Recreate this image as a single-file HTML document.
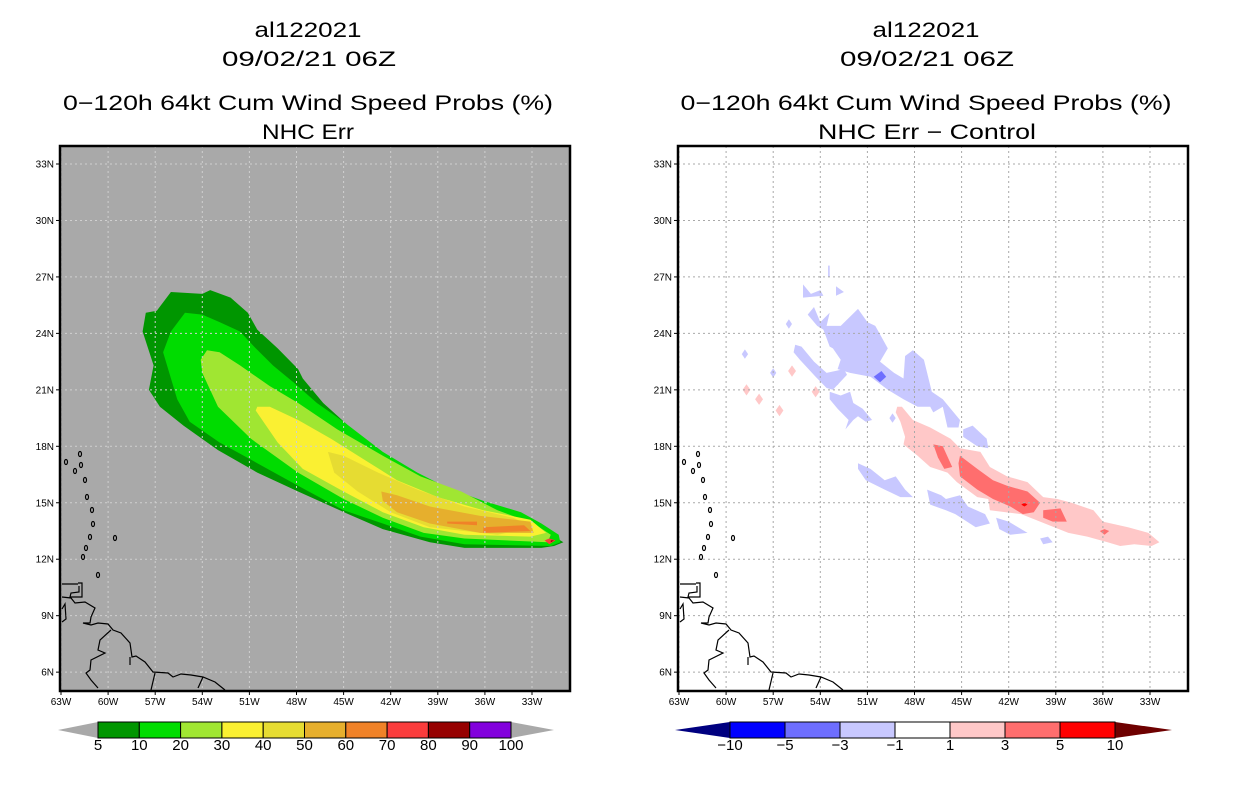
<!DOCTYPE html>
<html><head><meta charset="utf-8"><style>
html,body{margin:0;padding:0;background:#fff;}
svg{display:block;font-family:"Liberation Sans",sans-serif;}
</style></head><body>
<svg id="root" width="1236" height="800" viewBox="0 0 1236 800" xmlns="http://www.w3.org/2000/svg">
<g font-size="21" text-anchor="middle" fill="#000">
<text x="308" y="37" textLength="107" lengthAdjust="spacingAndGlyphs">al122021</text>
<text x="309" y="66" textLength="174" lengthAdjust="spacingAndGlyphs">09/02/21 06Z</text>
<text x="308" y="110" textLength="490" lengthAdjust="spacingAndGlyphs">0−120h 64kt Cum Wind Speed Probs (%)</text>
<text x="308" y="139" textLength="92" lengthAdjust="spacingAndGlyphs">NHC Err</text>
</g>
<g font-size="21" text-anchor="middle" fill="#000">
<text x="926" y="37" textLength="107" lengthAdjust="spacingAndGlyphs">al122021</text>
<text x="927" y="66" textLength="174" lengthAdjust="spacingAndGlyphs">09/02/21 06Z</text>
<text x="926" y="110" textLength="491" lengthAdjust="spacingAndGlyphs">0−120h 64kt Cum Wind Speed Probs (%)</text>
<text x="927" y="139" textLength="218" lengthAdjust="spacingAndGlyphs">NHC Err − Control</text>
</g>
<g id="leftPanel"></g>
<g id="rightPanel"></g>
<g id="leftBar"></g>
<g id="rightBar"></g>
</svg>
<script>
// ---- data ----
const lonTicks = [63,60,57,54,51,48,45,42,39,36,33];
const latTicks = [33,30,27,24,21,18,15,12,9,6];
const probLevels = ["5","10","20","30","40","50","60","70","80","90","100"];
const probColors = ["#009600","#00dc00","#a0e632","#faf032","#e6dc32","#e6af2d","#f08228","#fa3c3c","#960000","#8200dc"];
const diffLevels = ["−10","−5","−3","−1","1","3","5","10"];
const diffColors = ["#0000ff","#6e6eff","#c8c8ff","#ffffff","#ffc8c8","#ff6e6e","#ff0000"];
// probability contours [lonW, latN]
const prob5 = [[56.0,26.2],[54.0,26.1],[53.5,26.3],[52.2,25.9],[51.1,25.1],[50.5,24.2],[49.2,23.2],[47.9,22.1],[47.6,21.6],[46.3,20.3],[44.7,19.1],[42.5,17.5],[40.3,16.4],[38.4,15.6],[36.1,14.8],[33.9,14.2],[32.2,13.5],[31.0,12.9],[31.6,12.7],[32.4,12.6],[37.3,12.6],[39.5,12.9],[42.5,13.6],[44.7,14.4],[47.9,15.6],[50.5,16.6],[53.0,17.8],[55.2,19.1],[56.7,20.1],[57.4,21.0],[57.1,22.3],[57.8,24.1],[57.6,25.1],[56.9,25.2]];
const prob10 = [[55.1,25.1],[54.0,25.0],[52.9,24.6],[51.6,24.1],[50.7,23.3],[49.5,22.3],[48.2,21.4],[46.7,20.3],[45.0,19.3],[42.5,17.7],[40.3,16.6],[38.4,15.8],[36.1,15.1],[33.7,14.5],[32.4,13.9],[31.3,13.3],[31.2,12.9],[31.8,12.7],[37.3,12.8],[40.1,13.2],[42.5,13.9],[45.0,14.6],[47.9,15.9],[50.5,17.1],[52.9,18.2],[54.8,19.3],[55.6,20.5],[56.5,23.0],[56.0,24.1]];
const prob20 = [[53.7,23.1],[52.9,23.0],[51.6,22.3],[49.7,21.2],[47.9,20.3],[45.4,18.9],[42.5,17.5],[40.1,16.4],[37.5,15.6],[35.2,14.6],[32.9,13.9],[31.8,13.3],[32.0,12.9],[37.3,13.1],[39.9,13.4],[42.5,14.2],[45.0,15.2],[47.9,16.6],[50.9,18.4],[53.0,20.1],[54.0,21.9],[54.1,22.6]];
const prob30 = [[50.5,20.1],[49.7,20.1],[47.9,19.4],[45.8,18.4],[43.7,17.3],[41.6,16.2],[39.0,15.3],[36.1,14.6],[33.1,14.1],[32.1,13.4],[33.1,13.2],[37.3,13.3],[39.9,13.7],[42.5,14.5],[45.0,15.6],[47.6,16.8],[49.2,18.2],[50.6,19.9]];
const prob40 = [[46.0,17.7],[45.0,17.5],[42.8,16.6],[40.3,15.7],[37.3,14.8],[34.2,14.2],[32.9,13.7],[35.2,13.3],[39.5,13.7],[42.0,14.5],[44.1,15.6],[45.6,16.6]];
const prob50 = [[42.6,15.6],[41.6,15.4],[39.5,14.8],[36.3,14.3],[33.1,14.0],[32.9,13.4],[36.3,13.4],[39.5,13.9],[41.6,14.5],[42.5,15.1]];
const prob60a = [[38.4,14.0],[36.5,14.0],[36.5,13.8],[38.4,13.9]];
const prob60b = [[36.1,13.7],[33.5,13.8],[33.1,13.5],[36.1,13.4]];
const prob70 = [[31.9,13.1],[31.5,13.0],[31.9,12.8],[32.2,13.0]];
const prob80 = [[31.8,13.0],[31.6,13.0],[31.8,12.9]];
// difference contours
const negMain = [[54.8,25.0],[54.4,25.4],[54.0,24.6],[53.4,25.1],[53.6,24.4],[52.7,24.4],[51.6,25.3],[51.0,24.6],[50.5,24.4],[49.7,23.2],[50.2,22.5],[49.3,21.9],[48.7,21.6],[48.6,22.8],[48.1,23.1],[47.4,22.6],[46.9,20.9],[46.2,20.5],[45.1,19.4],[45.2,19.0],[45.9,19.0],[46.2,20.1],[46.8,19.8],[47.0,20.1],[47.8,20.1],[48.7,20.5],[49.7,21.0],[50.8,21.7],[52.1,21.9],[52.9,22.1],[52.7,22.6],[53.2,23.2],[53.4,23.3],[53.8,24.2],[54.2,24.4]];
const negArm2 = [[55.6,23.4],[55.2,23.3],[54.4,22.5],[53.6,21.9],[52.5,22.1],[52.3,21.8],[53.2,21.0],[53.6,21.1],[54.3,21.7],[55.3,22.6],[55.7,23.0]];
const negArm3 = [[53.4,20.9],[52.7,20.7],[52.1,20.9],[51.9,20.3],[51.3,20.0],[50.7,19.4],[51.1,19.3],[51.6,19.6],[51.9,19.4],[52.4,18.9],[52.2,19.4],[52.9,20.0],[53.4,20.5]];
const negBlobE = [[44.9,18.9],[44.3,19.1],[43.4,18.4],[43.3,17.9],[44.0,18.0],[44.9,18.5]];
const negLow1 = [[51.6,17.1],[50.8,16.8],[49.9,16.2],[49.2,16.4],[48.6,15.7],[48.1,15.3],[48.9,15.3],[49.9,15.7],[51.1,16.2],[51.6,16.8]];
const negLow2 = [[47.2,15.7],[46.3,15.4],[46.0,15.2],[45.1,15.4],[44.6,14.8],[43.5,14.4],[43.2,13.9],[44.1,13.7],[45.4,14.4],[46.0,14.6],[47.0,14.9]];
const negLow3 = [[42.8,14.2],[42.0,14.0],[40.8,13.4],[41.9,13.3],[42.6,13.6]];
const negLow4 = [[40.0,13.1],[39.5,13.2],[39.2,12.9],[39.8,12.8]];
const negTop1 = [[55.1,26.6],[54.6,26.1],[54.0,26.3],[53.8,26.0],[55.1,25.9]];
const negTop2 = [[53.0,26.5],[52.5,26.2],[53.0,26.0]];
const negSpike = [[53.5,27.6],[53.4,27.6],[53.4,27.0],[53.5,27.0]];
const negDots = [[58.8,22.9],[56.0,24.5],[57.0,21.9],[52.9,21.5],[49.4,19.5]];
const neg3Blob = [[50.6,21.7],[50.1,22.0],[49.8,21.7],[50.2,21.4]];
const posMain = [[49.1,20.1],[48.8,20.1],[48.1,19.4],[47.0,19.0],[45.7,18.4],[45.1,17.9],[43.8,17.7],[43.2,16.9],[42.1,16.4],[40.8,16.1],[39.8,15.3],[38.9,15.2],[38.0,15.0],[36.6,14.6],[36.0,14.0],[34.4,13.7],[33.1,13.4],[32.4,12.9],[32.9,12.7],[34.0,12.8],[34.9,12.7],[35.7,12.9],[37.0,13.2],[38.2,13.4],[39.1,13.7],[40.0,14.0],[41.2,14.4],[43.2,14.6],[43.3,15.2],[44.0,15.3],[45.3,16.1],[45.9,16.6],[47.0,16.9],[47.8,17.5],[48.7,18.1],[48.6,18.5],[48.9,19.3],[49.2,19.8]];
const posDots = [[58.7,21.0],[55.8,22.0],[54.3,20.9],[57.9,20.5],[56.6,19.9]];
const pos3a = [[46.8,18.1],[46.2,18.0],[45.6,16.9],[46.1,16.8],[46.5,17.4]];
const pos3b = [[45.1,17.5],[44.0,16.8],[43.0,16.2],[42.1,15.9],[40.8,15.6],[40.0,15.0],[40.4,14.5],[41.1,14.4],[41.9,14.8],[43.0,15.2],[44.0,15.7],[45.1,16.4],[45.2,17.1]];
const pos3c = [[39.8,14.6],[38.7,14.7],[38.3,14.0],[39.2,14.0],[39.8,14.2]];
const pos3d = [[35.9,13.6],[35.6,13.5],[35.9,13.3],[36.2,13.5]];
const pos5 = [[41.0,15.0],[40.8,14.9],[41.0,14.8],[41.2,14.9]];

// ---- axes ----
const NS = "http://www.w3.org/2000/svg";
const FRAME = {top:146, bottom:691, w:510};
function xScale(w, x0){ return x0 + (63 - w) * 15.7; }
function yScale(lat){ return 164 + (33 - lat) * 18.82; }
function mk(tag, attrs, parent){ const e=document.createElementNS(NS,tag); for(const k in attrs) e.setAttribute(k,attrs[k]); parent.appendChild(e); return e; }
function poly(pts, x0){ return pts.map(p => xScale(p[0],x0).toFixed(1)+","+yScale(p[1]).toFixed(1)).join(" "); }

// coastline in pixel offsets relative to the frame's 63W origin (map base layer)
const coastPaths = [
 "M1,438 L17,438 M17,437 L21,437 L21,451 L9,451 L10,447 L18,446 L18,440",
 "M1,451 L10,452 L14,457 L24,456 L34,462 L30,471 L29,477 L22,477 L30,479 L37,477 L47,478 L52,484 L60,487 L69,497 L71,511 L75,510 L84,516 L92,526 L107,527 L112,531 L120,528 L130,529 L142,531 L154,536 L164,544",
 "M50,484 L39,494 L37,504 L44,507 L30,514 L29,524 L25,527 L30,534 L37,542",
 "M69,511 L69,519",
 "M94,527 L90,544",
 "M142,531 L137,542",
 "M1,463 L4,458 L5,473 L1,476"
];
const islands = [[19,308],[20,319],[14,325],[5,316],[24,334],[26,351],[31,364],[32,378],[29,391],[25,402],[22,411],[54,392],[37,429]];

function drawPanel(g, x0, bg, gridColor, layers, tag){
  mk("rect",{x:x0-1,y:FRAME.top,width:FRAME.w,height:FRAME.bottom-FRAME.top,fill:bg},g);
  layers.forEach(L=>{
    const p = mk("polygon",{points:poly(L.pts,x0),fill:L.color},g);
    
    
  });
  lonTicks.forEach(w=>{
    const l = mk("line",{x1:xScale(w,x0),x2:xScale(w,x0),y1:FRAME.top,y2:FRAME.bottom,stroke:gridColor,"stroke-width":1,"stroke-dasharray":"2,3"},g);
    
    
  });
  latTicks.forEach(la=>{
    const l = mk("line",{x1:x0-1,x2:x0-1+FRAME.w,y1:yScale(la),y2:yScale(la),stroke:gridColor,"stroke-width":1,"stroke-dasharray":"2,3"},g);
    
    
  });
  const cg = mk("g",{transform:"translate("+x0+",146)",fill:"none",stroke:"#000","stroke-width":1.2},g);
  
  
  coastPaths.forEach(d=>mk("path",{d:d},cg));
  islands.forEach(p=>mk("ellipse",{cx:p[0],cy:p[1],rx:1.5,ry:2.5},cg));
  const fr = mk("rect",{x:x0-1,y:FRAME.top,width:FRAME.w,height:FRAME.bottom-FRAME.top,fill:"none",stroke:"#000","stroke-width":2.5},g);
  
  
  lonTicks.forEach(w=>{
    const x=xScale(w,x0);
    mk("line",{x1:x,x2:x,y1:FRAME.bottom,y2:FRAME.bottom+4,stroke:"#000"},g);
    const t=mk("text",{x:x,y:FRAME.bottom+14,"font-size":10,"text-anchor":"middle"},g);
    t.textContent=w+"W";
    
    
  });
  latTicks.forEach(la=>{
    const y=yScale(la);
    mk("line",{x1:x0-5,x2:x0-1,y1:y,y2:y,stroke:"#000"},g);
    const t=mk("text",{x:x0-7,y:y+3.5,"font-size":10,"text-anchor":"end"},g);
    t.textContent=la+"N";
    
    
  });
}

const leftLayers = [
 {pts:prob5,color:probColors[0],name:"prob-5-contour"},
 {pts:prob10,color:probColors[1],name:"prob-10-contour"},
 {pts:prob20,color:probColors[2],name:"prob-20-contour"},
 {pts:prob30,color:probColors[3],name:"prob-30-contour"},
 {pts:prob40,color:probColors[4],name:"prob-40-contour"},
 {pts:prob50,color:probColors[5],name:"prob-50-contour"},
 {pts:prob60a,color:probColors[6],name:"prob-60-contour"},
 {pts:prob60b,color:probColors[6],name:"prob-60-contour"},
 {pts:prob70,color:probColors[7],name:"prob-70-contour"},
 {pts:prob80,color:probColors[8],name:"prob-80-contour"}
];
const rightLayers = [
 ...[negMain,negArm2,negArm3,negBlobE,negLow1,negLow2,negLow3,negLow4,negTop1,negTop2,negSpike].map(p=>({pts:p,color:diffColors[2],name:"diff-neg1-contour"})),
 ...negDots.map(d=>({pts:[[d[0]+0.2,d[1]],[d[0],d[1]+0.25],[d[0]-0.2,d[1]],[d[0],d[1]-0.25]],color:diffColors[2],name:"diff-neg1-spot"})),
 {pts:neg3Blob,color:diffColors[1],name:"diff-neg3-contour"},
 {pts:posMain,color:diffColors[4],name:"diff-pos1-contour"},
 ...posDots.map(d=>({pts:[[d[0]+0.25,d[1]],[d[0],d[1]+0.3],[d[0]-0.25,d[1]],[d[0],d[1]-0.3]],color:diffColors[4],name:"diff-pos1-spot"})),
 {pts:pos3a,color:diffColors[5],name:"diff-pos3-contour"},
 {pts:pos3b,color:diffColors[5],name:"diff-pos3-contour"},
 {pts:pos3c,color:diffColors[5],name:"diff-pos3-contour"},
 {pts:pos3d,color:diffColors[5],name:"diff-pos3-contour"},
 {pts:pos5,color:diffColors[6],name:"diff-pos5-contour"}
];
drawPanel(document.getElementById("leftPanel"), 61, "#a9a9a9", "#d0d0d0", leftLayers, "left");
drawPanel(document.getElementById("rightPanel"), 679, "#ffffff", "#a9a9a9", rightLayers, "right");

function drawBar(g, x0, x1, tipL, tipR, colors, labels, endL, endR){
  const n = colors.length, bw = (x1-x0)/n, y0=722, y1=738, ym=730;
  const tl = mk("polygon",{points:`${tipL},${ym} ${x0},${y0} ${x0},${y1}`,fill:endL},g);
  
  
  const tr = mk("polygon",{points:`${tipR},${ym} ${x1},${y0} ${x1},${y1}`,fill:endR},g);
  
  
  colors.forEach((c,i)=>{
    const r = mk("rect",{x:x0+i*bw,y:y0,width:bw,height:y1-y0,fill:c,stroke:"#000","stroke-width":1},g);
    
    
  });
  labels.forEach((s,i)=>{
    const t = mk("text",{x:x0+i*bw,y:750,"font-size":15,"text-anchor":"middle"},g);
    t.textContent = s;
    
    
  });
}
drawBar(document.getElementById("leftBar"), 98, 511, 58, 554, probColors, probLevels, "#a9a9a9", "#a9a9a9");
drawBar(document.getElementById("rightBar"), 730, 1115, 675, 1172, diffColors, diffLevels, "#000080", "#6e0000");
</script>
</body></html>
